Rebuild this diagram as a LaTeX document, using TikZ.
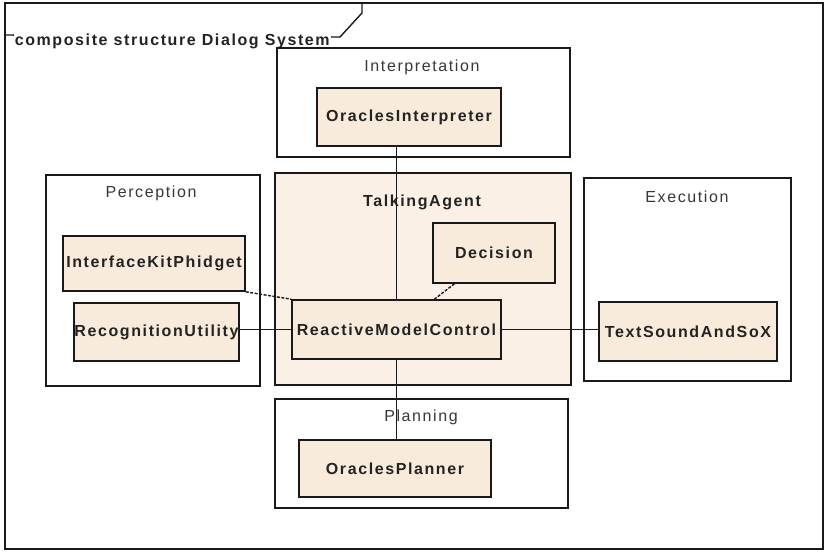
\documentclass[tikz,border=0pt]{standalone}
\usepackage{fontspec}
\setmainfont{Liberation Sans}
\newfontfamily\umlfont[LetterSpace=10]{Liberation Sans}
\usetikzlibrary{positioning, calc}
\definecolor{PartFill}{RGB}{249,235,219}
\definecolor{AgentFill}{RGB}{251,240,229}
\definecolor{UmlLine}{RGB}{25,25,25}
\definecolor{UmlText}{RGB}{35,35,35}
\definecolor{UmlLabel}{RGB}{55,55,55}
\tikzset{
  region/.style={draw=UmlLine, line width=1.6pt, fill=white, inner sep=0pt},
  part/.style={draw=UmlLine, line width=1.6pt, fill=PartFill, inner sep=0pt,
               font=\umlfont\fontsize{16}{19}\selectfont\bfseries, text=UmlText},
  lbl/.style={font=\umlfont\fontsize{16}{19}\selectfont, text=UmlLabel, inner sep=1pt},
  link/.style={draw=UmlLine, line width=1.4pt},
  dep/.style={link, dash pattern=on 3pt off 1.5pt}
}

\begin{document}
\begin{tikzpicture}[x=1pt, y=-1pt]
  \useasboundingbox (0,0) rectangle (827,552);
  % outer frame and its name tab
  \node[region, line width=1.8pt, minimum width=818pt, minimum height=546pt] (frame) at (414,276) {};
  \coordinate (tab-l) at (5,35);
  \coordinate (tab-r) at (340,37);
  \coordinate (tab-c) at (362,13);
  \draw[link] (tab-l) -- (tab-r) -- (tab-c) -- (tab-c |- frame.north);
  \node[part, fill=white, draw=none, inner sep=1pt, anchor=west] (title) at (13,41) {composite structure Dialog System};

  % regions
  \node[region, minimum width=293pt, minimum height=109pt] (interp) at (423.5,102.5) {};
  \node[region, minimum width=214pt, minimum height=211pt] (percep) at (153,280.5) {};
  \node[region, minimum width=207pt, minimum height=203pt] (exec) at (687.5,279.5) {};
  \node[region, minimum width=293pt, minimum height=109pt] (plan) at (421.5,453.5) {};
  \node[part, fill=AgentFill, minimum width=296pt, minimum height=212pt] (agent) at (423,279) {};

  % region names
  \node[lbl] (interp-name) at (422,67) {Interpretation};
  \node[lbl] (percep-name) at (151,193) {Perception};
  \node[lbl] (exec-name) at (687,197) {Execution};
  \node[lbl] (plan-name) at (421,417) {Planning};
  \node[part, fill=none, draw=none] (agent-name) at (422,202) {TalkingAgent};

  % parts
  \node[part, minimum width=184pt, minimum height=58pt] (oint) at (409,117) {OraclesInterpreter};
  \node[part, minimum width=122pt, minimum height=60pt] (dec) at (494,253) {Decision};
  \node[part, minimum width=209pt, minimum height=59pt] (rmc) at (396.5,329.5) {ReactiveModelControl};
  \node[part, minimum width=182pt, minimum height=55pt] (ikp) at (154,263.5) {InterfaceKitPhidget};
  \node[part, minimum width=165pt, minimum height=58pt] (recog) at (156.5,332) {RecognitionUtility};
  \node[part, minimum width=178pt, minimum height=59pt] (tss) at (688,331.5) {TextSoundAndSoX};
  \node[part, minimum width=192pt, minimum height=57pt] (oplan) at (395,468.5) {OraclesPlanner};

  % connectors
  \draw[link] (rmc.north) -- (rmc.north |- oint.south);
  \draw[link] (rmc.south) -- (rmc.south |- oplan.north);
  \draw[link] (rmc.west) -- (rmc.west -| recog.east);
  \draw[link] (rmc.east) -- (rmc.east -| tss.west);
  \draw[dep] (ikp.south east) -- (rmc.north west);
  \draw[dep] ($(dec.south west)!0.18!(dec.south east)$) -- ($(rmc.north west)!0.68!(rmc.north east)$);
\end{tikzpicture}
\end{document}
